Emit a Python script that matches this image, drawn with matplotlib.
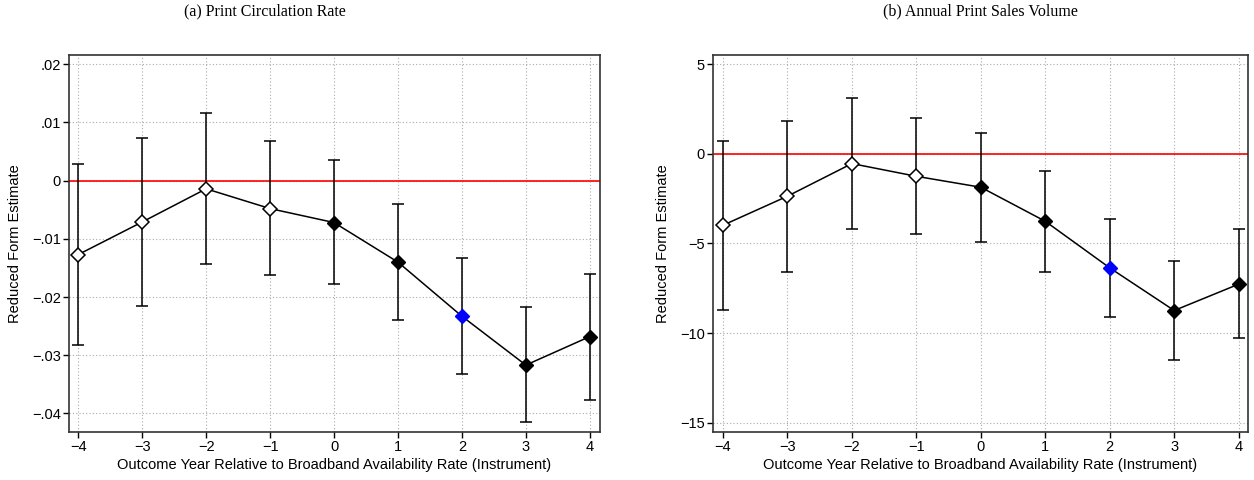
import matplotlib
matplotlib.use("Agg")
import matplotlib.pyplot as plt
import numpy as np

years = [-4, -3, -2, -1, 0, 1, 2, 3, 4]

# (a) Print Circulation Rate
circ_est = [-0.0127, -0.0071, -0.0014, -0.0048, -0.0072, -0.0140, -0.0233, -0.0317, -0.0268]
circ_hi = [0.0029, 0.0074, 0.0116, 0.0068, 0.0036, -0.0040, -0.0133, -0.0218, -0.0160]
circ_lo = [-0.0282, -0.0215, -0.0144, -0.0162, -0.0178, -0.0240, -0.0332, -0.0415, -0.0377]

# (b) Annual Print Sales Volume
sales_est = [-3.98, -2.36, -0.54, -1.25, -1.86, -3.76, -6.36, -8.74, -7.27]
sales_hi = [0.74, 1.84, 3.13, 2.00, 1.17, -0.95, -3.61, -5.97, -4.20]
sales_lo = [-8.70, -6.57, -4.17, -4.46, -4.91, -6.57, -9.10, -11.50, -10.30]

circ_yticks = [0.02, 0.01, 0, -0.01, -0.02, -0.03, -0.04]
circ_ylabels = ['.02', '.01', '0', '\u2212.01', '\u2212.02', '\u2212.03', '\u2212.04']
sales_yticks = [5, 0, -5, -10, -15]
sales_ylabels = ['5', '0', '\u22125', '\u221210', '\u221215']
xlabels = ['\u22124', '\u22123', '\u22122', '\u22121', '0', '1', '2', '3', '4']

plt.rcParams['font.family'] = ['Liberation Sans', 'DejaVu Sans']

fig = plt.figure(figsize=(12.54, 4.8), dpi=100)
ax1 = fig.add_axes([69/1254, 48/480, 531/1254, 377/480])
ax2 = fig.add_axes([713/1254, 48/480, 535/1254, 377/480])


def draw(ax, est, lo, hi, yticks, ylabels, ylim, xlim):
    x = np.array(years)
    est = np.array(est)
    lo = np.array(lo)
    hi = np.array(hi)
    ax.axhline(0, color='red', lw=1.2, zorder=1)
    ax.errorbar(x, est, yerr=[est - lo, hi - est], fmt='none', ecolor='black',
                elinewidth=1.1, capsize=4, capthick=1.1, zorder=2)
    ax.plot(x, est, color='black', lw=1.1, zorder=3)
    pre = x < 0
    ax.plot(x[pre], est[pre], 'D', ms=7.5, mfc='white', mec='black', mew=1.1, ls='none', zorder=4)
    post = (x >= 0) & (x != 2)
    ax.plot(x[post], est[post], 'D', ms=7.5, mfc='black', mec='black', ls='none', zorder=4)
    ax.plot(x[x == 2], est[x == 2], 'D', ms=7.5, mfc='blue', mec='blue', ls='none', zorder=4)
    ax.set_xticks(years)
    ax.set_xticklabels(xlabels)
    ax.set_yticks(yticks)
    ax.set_yticklabels(ylabels)
    ax.set_ylim(ylim)
    ax.set_xlim(xlim)
    ax.grid(True, color='#aaaaaa', ls=(0, (1, 2)), lw=0.8)
    ax.set_axisbelow(True)
    ax.tick_params(direction='out', length=4, width=1, labelsize=10.5, pad=2)
    for s in ax.spines.values():
        s.set_color('#333333')
        s.set_linewidth(1.2)
    ax.set_xlabel('Outcome Year Relative to Broadband Availability Rate (Instrument)', fontsize=10.5, labelpad=3)
    ax.set_ylabel('Reduced Form Estimate', fontsize=10.5, labelpad=7)


draw(ax1, circ_est, circ_lo, circ_hi, circ_yticks, circ_ylabels, (-0.0432, 0.0216), (-4.145, 4.16))
draw(ax2, sales_est, sales_lo, sales_hi, sales_yticks, sales_ylabels, (-15.52, 5.52), (-4.155, 4.145))

fig.text(265/1254, 1 - 11/480, '(a) Print Circulation Rate', ha='center', va='center',
         fontsize=11.5, family='Liberation Serif')
fig.text(980/1254, 1 - 11/480, '(b) Annual Print Sales Volume', ha='center', va='center',
         fontsize=11.5, family='Liberation Serif')

fig.savefig('out.png', dpi=100)
